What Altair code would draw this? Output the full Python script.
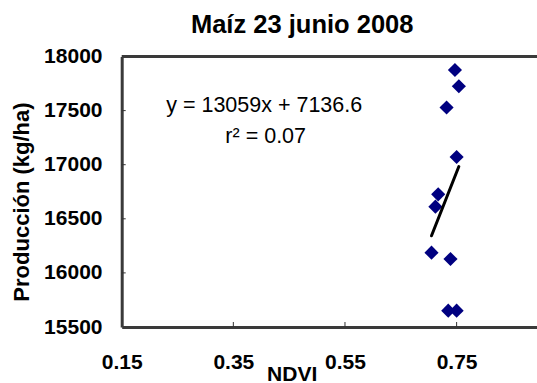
import altair as alt
import pandas as pd

# Maize yield vs NDVI, 23 June 2008
ndvi = [0.747, 0.754, 0.732, 0.750, 0.717, 0.712, 0.705, 0.739, 0.735, 0.750]
produccion = [17875, 17725, 17529, 17071, 16726, 16612, 16187, 16128, 15651, 15651]

# Linear fit shown on the chart
pendiente = 13059
intercepto = 7136.6
r2 = 0.07

titulo = "Maíz 23 junio 2008"
x_ticks = [0.15, 0.35, 0.55, 0.75]
y_ticks = [15500, 16000, 16500, 17000, 17500, 18000]

FONT = "Liberation Sans"
FRAME = "#3a3a3a"
W, H = 415.3, 270.5

puntos = pd.DataFrame({"NDVI": ndvi, "Produccion": produccion})
x_fit = [min(ndvi), max(ndvi)]
ajuste = pd.DataFrame({"NDVI": x_fit,
                       "Produccion": [pendiente * v + intercepto for v in x_fit]})
uno = pd.DataFrame({"k": [0]})

x_scale = alt.Scale(domain=[0.15, 0.894], nice=False, zero=False)
y_scale = alt.Scale(domain=[15500, 18000], nice=False, zero=False)

x_axis = alt.Axis(
    values=x_ticks, format=".2f", title="NDVI", ticks=False, grid=False,
    labelFlush=False, labelOverlap=False, labelFont=FONT, labelFontSize=21,
    labelFontWeight="bold", labelColor="black", labelBaseline="alphabetic",
    labelPadding=41, domainColor=FRAME, domainWidth=3,
    titleFont=FONT, titleFontSize=21, titleFontWeight="bold", titleColor="black",
    titleX=170, titleY=53, titleBaseline="alphabetic", titleAlign="center",
)
y_axis = alt.Axis(
    values=y_ticks, format="d", title="Producción (kg/ha)", ticks=False, grid=False,
    labelFlush=False, labelOverlap=False, labelFont=FONT, labelFontSize=21,
    labelFontWeight="bold", labelColor="black", labelPadding=19.7,
    domainColor=FRAME, domainWidth=3,
    titleFont=FONT, titleFontSize=22, titleFontWeight="bold", titleColor="black",
    titleX=-93, titleY=145, titleAngle=270, titleBaseline="alphabetic",
    titleAlign="center",
)

X = alt.X("NDVI:Q", scale=x_scale, axis=x_axis)
Y = alt.Y("Produccion:Q", scale=y_scale, axis=y_axis)

diamantes = alt.Chart(puntos).mark_point(
    shape="diamond", filled=True, size=200, color="#000080", opacity=1
).encode(x=X, y=Y)

recta = alt.Chart(ajuste).mark_line(
    color="black", strokeWidth=3, strokeCap="round"
).encode(x=X, y=Y)

# inward tick marks
ticks_x = alt.Chart(pd.DataFrame({"NDVI": x_ticks[1:]})).mark_rule(
    color="#333333", strokeWidth=1
).encode(x=X, y=alt.value(H - 5), y2=alt.value(H))
ticks_y = alt.Chart(pd.DataFrame({"Produccion": y_ticks[1:-1]})).mark_rule(
    color="#333333", strokeWidth=1
).encode(y=Y, x=alt.value(0), x2=alt.value(4))

# top edge of the frame
borde_sup = alt.Chart(uno).mark_rule(color=FRAME, strokeWidth=3).encode(
    x=alt.value(0), x2=alt.value(W), y=alt.value(0)
)

def texto(t, x, y, size, weight="normal"):
    return alt.Chart(uno).mark_text(
        font=FONT, fontSize=size, fontWeight=weight, color="black",
        align="center", baseline="alphabetic"
    ).encode(x=alt.value(x), y=alt.value(y), text=alt.value(t))

cabecera = texto(titulo, 180.5, -23.5, 25.5, "bold")
ecuacion = texto(f"y = {pendiente}x + {intercepto}", 142.5, 55.5, 21.5)
coef = texto(f"r² = {r2:.2f}", 144, 86.5, 21.5)

chart = alt.layer(
    diamantes, recta, ticks_x, ticks_y, borde_sup, ecuacion, coef, cabecera
).properties(
    width=W, height=H,
    autosize=alt.AutoSizeParams(type="none"),
    padding={"left": 121.7, "top": 56.5, "right": 0, "bottom": 56},
    background="white",
).configure_view(stroke=None)

chart.save("out.html", embed_options={"renderer": "svg", "actions": False})
